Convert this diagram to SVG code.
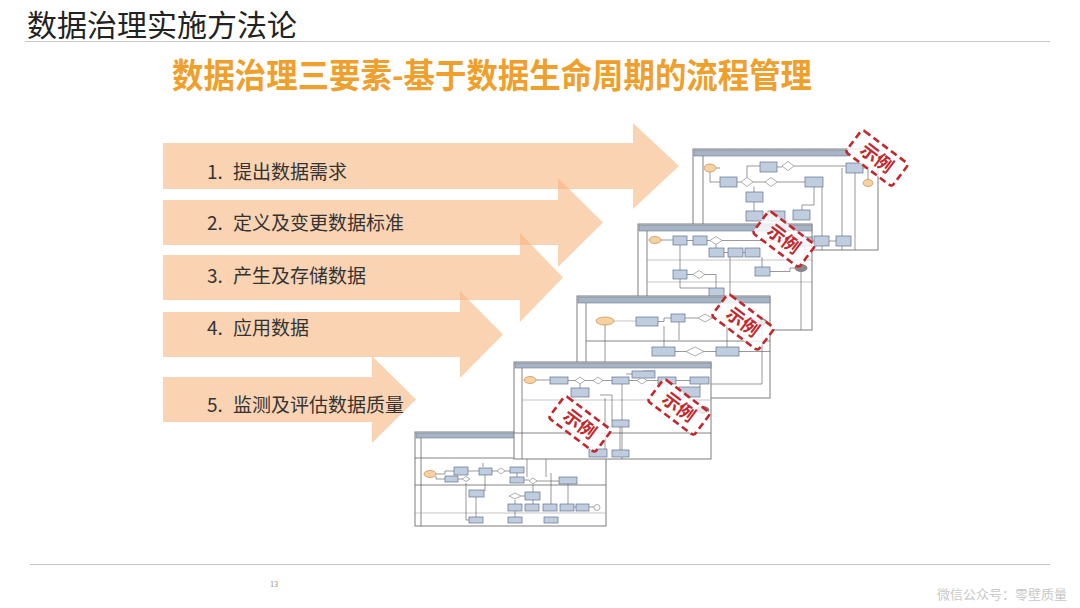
<svg xmlns="http://www.w3.org/2000/svg" width="1080" height="608" viewBox="0 0 1080 608">
<style>
.cjk{font-family:"Noto Sans CJK SC","Noto Sans",sans-serif}
.arr{fill:#F7B681;opacity:0.6}
.lbl{font-size:19px;fill:#333}
.fr{fill:#fff;stroke:#7d7d7d;stroke-width:1}
.hd{fill:#A7B4C5;stroke:#6f7c8e;stroke-width:0.6}
.bx{fill:#C0CDDF;stroke:#5E7291;stroke-width:0.7}
.dm{fill:#fff;stroke:#777;stroke-width:0.6}
.ov{fill:#F6D2A2;stroke:#C8874A;stroke-width:0.7}
.og{fill:#8a8a8a;stroke:#555;stroke-width:0.6}
.ln{stroke:#555;stroke-width:0.6;fill:none}
.lt{stroke:#a0a0a0;stroke-width:0.6;fill:none}
.lane{stroke:#666;stroke-width:0.8}
.stp{fill:#fff;fill-opacity:0.8;stroke:#C4262B;stroke-width:2.6;stroke-dasharray:7 4}
.stt{font-size:18px;font-weight:700;fill:#C4262B}
</style>

<!-- title -->
<g id="title">
<text x="27" y="36" class="cjk" font-size="30" fill="#222">数据治理实施方法论</text>
<line x1="25" y1="41.5" x2="1050" y2="41.5" stroke="#c8c8c8" stroke-width="1"/>
</g>
<g id="subtitle">
<text x="492" y="88" text-anchor="middle" class="cjk" font-size="34" font-weight="700" fill="#EFA02C" textLength="640" lengthAdjust="spacingAndGlyphs">数据治理三要素-基于数据生命周期的流程管理</text>
</g>

<!-- arrows -->
<g id="arrows">
<path class="arr" d="M163,143 H633 V123 L679,166 L633,209 V189 H163 Z"/>
<path class="arr" d="M163,200 H558 V178 L603,222.5 L558,267 V245 H163 Z"/>
<path class="arr" d="M163,255 H520 V233 L563,277.5 L520,322 V300 H163 Z"/>
<path class="arr" d="M163,312 H460 V291 L503,334.5 L460,378 V357 H163 Z"/>
<path class="arr" d="M163,377 H372 V356 L416,399.5 L372,443 V422 H163 Z"/>
</g>
<g id="labels" class="cjk lbl">
<text x="207" y="179">1.</text><text x="233" y="179">提出数据需求</text>
<text x="207" y="230">2.</text><text x="233" y="230">定义及变更数据标准</text>
<text x="207" y="283">3.</text><text x="233" y="283">产生及存储数据</text>
<text x="207" y="335">4.</text><text x="233" y="335">应用数据</text>
<text x="207" y="412">5.</text><text x="233" y="412">监测及评估数据质量</text>
</g>

<!-- image 1 -->
<g id="img1">
<rect x="693" y="149" width="185" height="101" class="fr"/>
<rect x="694" y="150" width="154" height="6" class="hd"/>
<line x1="703" y1="156" x2="703" y2="250" class="lane"/>
<path class="ln" d="M716,168 H720 M737,182 H741 M753,182 H765 M777,182 H805 M747,177.5 V166 H760 M777,167 H782 M794,166 H846 M754,186.5 V192 M754,202 V211 M842,168 V250 M855,173 V250 M822,187 V250 M863,168 H868 V179 M814,187 V205 H802 V210 M776,221 V250 M710,172 V182 H720"/>
<ellipse cx="710" cy="168" rx="6" ry="4" class="ov"/>
<rect x="720" y="177" width="17" height="10" class="bx"/>
<polygon points="741,182 747,177.5 753,182 747,186.5" class="dm"/>
<polygon points="765,182 771,177.5 777,182 771,186.5" class="dm"/>
<rect x="760" y="162" width="17" height="10" class="bx"/>
<polygon points="782,166 788,161.5 794,166 788,170.5" class="dm"/>
<rect x="805" y="177" width="18" height="10" class="bx"/>
<rect x="746" y="192" width="17" height="10" class="bx"/>
<rect x="746" y="211" width="17" height="10" class="bx"/>
<rect x="768" y="211" width="17" height="10" class="bx"/>
<rect x="793" y="210" width="17" height="10" class="bx"/>
<rect x="846" y="163" width="17" height="10" class="bx"/>
<ellipse cx="868" cy="183" rx="5" ry="3.5" class="ov"/>
<rect x="814" y="236" width="15" height="10" class="bx"/>
<rect x="836" y="236" width="15" height="10" class="bx"/>
<path class="ln" d="M812,241 H814 M829,241 H836"/>
</g>

<!-- image 2 -->
<g id="img2">
<rect x="638" y="224" width="174" height="106" class="fr"/>
<rect x="639" y="225" width="173" height="6" class="hd"/>
<line x1="647" y1="231" x2="647" y2="330" class="lane"/>
<line x1="647" y1="260" x2="812" y2="260" class="lt"/>
<line x1="647" y1="282" x2="812" y2="282" class="lt"/>
<path class="ln" d="M661,240 H673 M687,240.5 H693 M707,240.5 H710 M722,240.5 H798 M680,245 V270 M687,274.5 H693 M705,274.5 H716 V330 M716,244.5 V248 M724,252.5 H728 M743,252.5 H745 M770,271.5 H790 V268 H795 M801,272 V330 M762,257 V267 M805,246 V262 M730,257 V300 M680,279 V288 H709"/>
<ellipse cx="655" cy="240" rx="6" ry="3.5" class="ov"/>
<rect x="673" y="236" width="14" height="9" class="bx"/>
<rect x="693" y="236" width="14" height="9" class="bx"/>
<polygon points="710,240.5 716,236.5 722,240.5 716,244.5" class="dm"/>
<rect x="709" y="248" width="15" height="9" class="bx"/>
<rect x="728" y="248" width="15" height="9" class="bx"/>
<rect x="745" y="248" width="15" height="9" class="bx"/>
<rect x="673" y="270" width="14" height="9" class="bx"/>
<polygon points="693,274.5 699,270.5 705,274.5 699,278.5" class="dm"/>
<rect x="755" y="267" width="15" height="9" class="bx"/>
<ellipse cx="801" cy="268" rx="6" ry="3.5" class="og"/>
<rect x="709" y="288" width="15" height="9" class="bx"/>
<rect x="798" y="237" width="14" height="9" class="bx"/>
</g>

<!-- image 3 -->
<g id="img3">
<rect x="577" y="296" width="193" height="102" class="fr"/>
<rect x="578" y="297" width="192" height="6" class="hd"/>
<line x1="586" y1="303" x2="586" y2="398" class="lane"/>
<line x1="586" y1="341" x2="770" y2="341" class="lane"/>
<path class="lt" d="M614,321 H636"/>
<path class="ln" d="M658,321.5 H664 V318 H671 M685,318 H698 M712,318 H757 M664,326 V347 M675,351.5 H686 M704,351.5 H716 M605,325 V398 M727,347 V318 M739,351.5 H770 M762,325 V384 H700 M679,322 V340 M700,384 V398"/>
<ellipse cx="605" cy="321" rx="9" ry="4" class="ov"/>
<rect x="636" y="317" width="22" height="9" class="bx"/>
<rect x="671" y="314" width="14" height="8" class="bx"/>
<polygon points="698,318 705,314 712,318 705,322" class="dm"/>
<rect x="652" y="347" width="23" height="9" class="bx"/>
<polygon points="686,351.5 695,347 704,351.5 695,356" class="dm"/>
<rect x="716" y="347" width="23" height="9" class="bx"/>
<ellipse cx="762" cy="322" rx="5" ry="3" class="og"/>
</g>

<!-- image 5 (below image 4) -->
<g id="img5">
<rect x="415" y="432" width="191" height="94" class="fr"/>
<rect x="416" y="433" width="190" height="5" class="hd"/>
<line x1="421" y1="438" x2="421" y2="526" class="lane"/>
<line x1="415" y1="458" x2="606" y2="458" class="lane"/>
<line x1="415" y1="485" x2="606" y2="485" class="lane"/>
<line x1="415" y1="513" x2="606" y2="513" class="lt"/>
<path class="ln" d="M436,474 H445 V471 H454 M436,476 V479 H445 M458,479 H462 M468,471 H479 M492,471 H497 M505,471 H510 M466,483 V520 H469 M485,475 V491 M517,473 V477 M524,480 H529 M537,481 H559 M533,485 V492 M521,496 H525 M533,500 V504 M515,500 V518 M551,473 V504 M568,484 V504 M574,507 H576 M589,507 H594 M476,497 V518 M546,447 V477 M540,451 H542 M550,443 H562 M527,454 V477 M483,463 V467"/>
<ellipse cx="430" cy="474" rx="6" ry="3.5" class="ov"/>
<rect x="454" y="467" width="14" height="8" class="bx"/>
<rect x="445" y="476" width="13" height="6" class="bx"/>
<polygon points="462,479 466,476.5 470,479 466,481.5" class="dm"/>
<rect x="479" y="468" width="13" height="7" class="bx"/>
<polygon points="497,471 501,468 505,471 501,474" class="dm"/>
<rect x="510" y="467" width="14" height="6" class="bx"/>
<rect x="510" y="477" width="14" height="6" class="bx"/>
<polygon points="529,481 533,478 537,481 533,484" class="dm"/>
<rect x="559" y="477" width="18" height="7" class="bx"/>
<rect x="469" y="490" width="15" height="7" class="bx"/>
<polygon points="509,496 515,493 521,496 515,499" class="dm"/>
<rect x="525" y="492" width="15" height="8" class="bx"/>
<rect x="508" y="504" width="14" height="7" class="bx"/>
<rect x="525" y="504" width="14" height="7" class="bx"/>
<rect x="543" y="504" width="14" height="7" class="bx"/>
<rect x="560" y="504" width="14" height="7" class="bx"/>
<rect x="576" y="504" width="13" height="7" class="bx"/>
<circle cx="597" cy="507.5" r="3" class="dm"/>
<rect x="469" y="517" width="14" height="6" class="bx"/>
<rect x="508" y="517" width="14" height="6" class="bx"/>
<rect x="544" y="517" width="14" height="6" class="bx"/>
</g>

<!-- image 4 -->
<g id="img4">
<rect x="514" y="362" width="197" height="97" class="fr"/>
<rect x="515" y="363" width="196" height="5" class="hd"/>
<line x1="522" y1="368" x2="522" y2="459" class="lane"/>
<line x1="522" y1="400" x2="711" y2="400" class="lt"/>
<line x1="514" y1="433" x2="711" y2="433" class="lane"/>
<path class="ln" d="M536,380 H550 M568,380.5 H575 M585,380.5 H593 M603,380.5 H612 M629,380.5 H637 M647,380.5 H658 M676,380.5 H690 M580,384 V388 M622,384 V459 M643,378 V371 H655 M667,384 V412 H698 M605,398 V449 M690,397 V412 M620,427 V450 M600,395 H612 V420 M700,384 V387 M632,374 H626"/>
<ellipse cx="530" cy="380" rx="6" ry="3.5" class="ov"/>
<rect x="550" y="377" width="18" height="7" class="bx"/>
<polygon points="575,380.5 580,377 585,380.5 580,384" class="dm"/>
<polygon points="593,380.5 598,377 603,380.5 598,384" class="dm"/>
<rect x="612" y="377" width="17" height="7" class="bx"/>
<polygon points="637,380.5 642,377 647,380.5 642,384" class="dm"/>
<rect x="632" y="371" width="23" height="7" class="bx"/>
<rect x="658" y="377" width="18" height="7" class="bx"/>
<rect x="690" y="377" width="19" height="7" class="bx"/>
<rect x="571" y="388" width="18" height="9" class="bx"/>
<rect x="679" y="387" width="21" height="10" class="bx"/>
<ellipse cx="703" cy="410" rx="6" ry="3.5" class="og"/>
<rect x="612" y="420" width="17" height="7" class="bx"/>
<rect x="589" y="449" width="18" height="8" class="bx"/>
<rect x="612" y="450" width="17" height="7" class="bx"/>
</g>

<!-- stamps -->
<g id="stamps" class="cjk">
<g transform="translate(877,158) rotate(37)"><rect x="-29" y="-14" width="58" height="28" rx="3" class="stp"/><text x="0" y="6.5" text-anchor="middle" class="stt">示例</text></g>
<g transform="translate(784,239) rotate(37)"><rect x="-29" y="-14" width="58" height="28" rx="3" class="stp"/><text x="0" y="6.5" text-anchor="middle" class="stt">示例</text></g>
<g transform="translate(743,322) rotate(37)"><rect x="-29" y="-14" width="58" height="28" rx="3" class="stp"/><text x="0" y="6.5" text-anchor="middle" class="stt">示例</text></g>
<g transform="translate(679,407) rotate(37)"><rect x="-29" y="-14" width="58" height="28" rx="3" class="stp"/><text x="0" y="6.5" text-anchor="middle" class="stt">示例</text></g>
<g transform="translate(580,424) rotate(37)"><rect x="-29" y="-14" width="58" height="28" rx="3" class="stp"/><text x="0" y="6.5" text-anchor="middle" class="stt">示例</text></g>
</g>

<!-- footer -->
<g id="footer">
<line x1="30" y1="564.5" x2="1050" y2="564.5" stroke="#c4c4c4" stroke-width="1.2"/>
<text x="270" y="587" font-family="Liberation Serif, serif" font-size="8" fill="#888">13</text>
<text x="937" y="599" class="cjk" font-size="13" fill="#c9c9c9">微信公众号：零壁质量</text>
</g>
</svg>
